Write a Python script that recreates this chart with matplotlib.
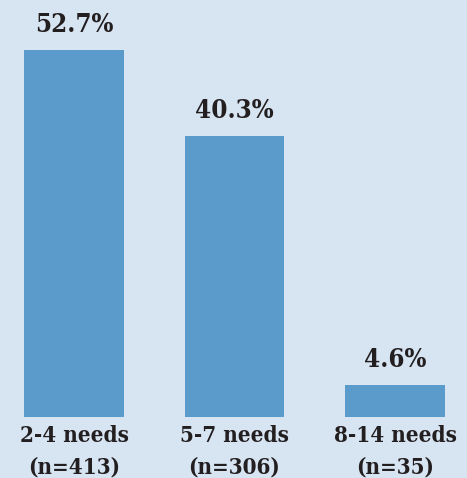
import matplotlib
matplotlib.use("Agg")
import matplotlib.pyplot as plt

categories = ["2-4 needs", "5-7 needs", "8-14 needs"]
counts = ["(n=413)", "(n=306)", "(n=35)"]
values = [52.7, 40.3, 4.6]

bg = "#d7e4f2"
bar_color = "#5b9bcb"
txt = "#231f20"

fig = plt.figure(figsize=(4.67, 4.78), dpi=100, facecolor=bg)
ax = fig.add_axes([0, 0.128, 1, 0.872])
ax.set_facecolor(bg)
x = list(range(len(values)))
ax.bar(x, values, width=0.623, color=bar_color)
ax.set_xlim(-74/160.5, (467-74)/160.5)
ax.set_ylim(0, 59.9)
font = dict(family="DejaVu Serif", fontstretch="condensed", fontweight="bold", color=txt)
for xi, v in zip(x, values):
    ax.annotate(f"{v}%", (xi, v), xytext=(0, 13), textcoords="offset pixels",
                ha="center", va="bottom", fontsize=18.5, **font)
for xi, c, n in zip(x, categories, counts):
    ax.annotate(c, (xi, 0), xytext=(0, -19), textcoords="offset pixels",
                ha="center", va="center", fontsize=16, annotation_clip=False, **font)
    ax.annotate(n, (xi, 0), xytext=(0, -51), textcoords="offset pixels",
                ha="center", va="center", fontsize=16, annotation_clip=False, **font)
ax.axis("off")
fig.savefig("out.png", dpi=100, facecolor=bg)
